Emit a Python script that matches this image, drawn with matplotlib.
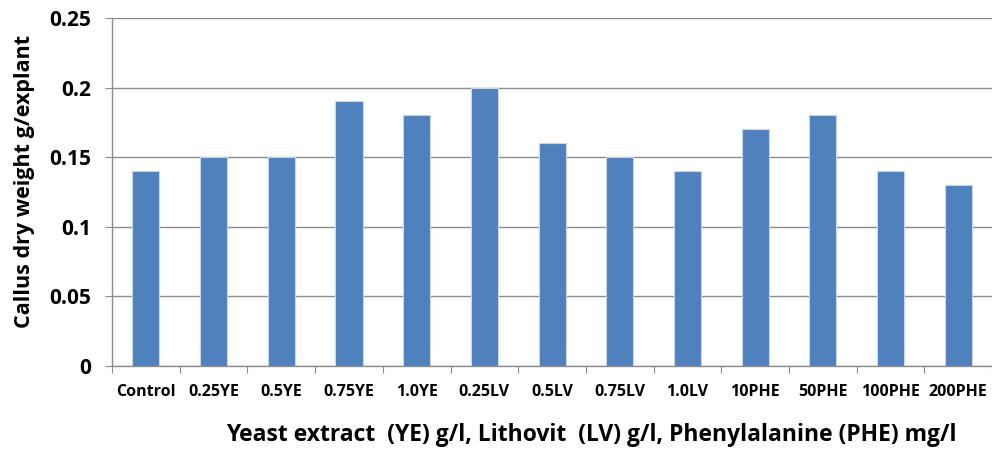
import matplotlib
matplotlib.use("Agg")
import matplotlib.pyplot as plt
import numpy as np

# ============ 数据 ============
categories = ["Control", "0.25YE", "0.5YE", "0.75YE", "1.0YE", "0.25LV", "0.5LV",
              "0.75LV", "1.0LV", "10PHE", "50PHE", "100PHE", "200PHE"]
dry_weight = [0.14, 0.15, 0.15, 0.19, 0.18, 0.20, 0.16, 0.15, 0.14, 0.17, 0.18, 0.14, 0.13]
y_ticks = [0, 0.05, 0.1, 0.15, 0.2, 0.25]
y_tick_labels = ["0", "0.05", "0.1", "0.15", "0.2", "0.25"]

plt.rcParams['font.family'] = ['Open Sans', 'DejaVu Sans']

fig = plt.figure(figsize=(9.92, 4.49), dpi=100)
ax = fig.add_axes([0.113, 0.185, 0.887, 0.775])

x = np.arange(len(categories))
ax.bar(x, dry_weight, width=0.4, color='#4f81bd', edgecolor='#c6d6ec', linewidth=0.8, zorder=3)

ax.set_xlim(-0.5, len(categories) - 0.5)
ax.set_ylim(0, 0.25)
ax.set_yticks(y_ticks)
ax.set_yticklabels(y_tick_labels, fontsize=15, fontweight='bold')
ax.grid(axis='y', color='#8c8c8c', linewidth=1.0, zorder=0)

# 类别边界处的刻度，标签放在中间
ax.set_xticks(np.arange(-0.5, len(categories), 1.0))
ax.set_xticklabels([])
ax.set_xticks(x, minor=True)
ax.set_xticklabels(categories, minor=True, fontsize=11.5, fontweight='bold')
ax.tick_params(axis='x', which='major', length=5, color='#8c8c8c')
ax.tick_params(axis='x', which='minor', length=0, pad=13)
ax.tick_params(axis='y', length=5, color='#8c8c8c', pad=10)

for s in ['top', 'right']:
    ax.spines[s].set_visible(False)
for s in ['left', 'bottom']:
    ax.spines[s].set_color('#8c8c8c')
    ax.spines[s].set_linewidth(1.0)

ax.set_ylabel("Callus dry weight g/explant", fontsize=15.5, fontweight='bold')
ax.yaxis.set_label_coords(-0.088, 0.53)
ax.set_xlabel("Yeast extract  (YE) g/l, Lithovit  (LV) g/l, Phenylalanine (PHE) mg/l",
              fontsize=16.5, fontweight='bold')
ax.xaxis.set_label_coords(0.545, -0.165)

fig.savefig("out.png", dpi=100)
